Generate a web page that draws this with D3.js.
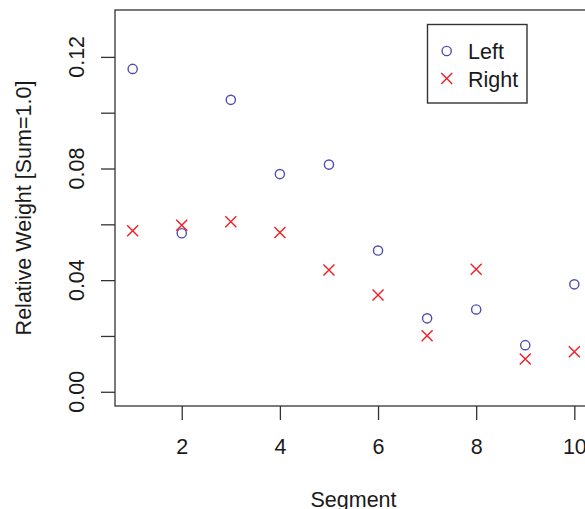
<!DOCTYPE html>
<html>
<head>
<meta charset="utf-8">
<script src="https://cdn.jsdelivr.net/npm/d3@7"></script>
<style>
    body { margin: 0; background: #fff; }
    svg text { font-family: "Liberation Sans", Arial, sans-serif; fill: #1a1a1a; }
</style>
</head>
<body>
<div id="chart"></div>
<script>
(function () {

    // Data
    var segments = [1, 2, 3, 4, 5, 6, 7, 8, 9, 10];
    var leftWeights = [0.1157, 0.0568, 0.1046, 0.0780, 0.0814, 0.0506, 0.0263, 0.0295, 0.0167, 0.0385];
    var rightWeights = [0.0577, 0.0597, 0.0609, 0.0571, 0.0436, 0.0347, 0.0201, 0.0439, 0.0117, 0.0143];
    var xTicks = [2, 4, 6, 8, 10];
    var yTicks = [0, 0.02, 0.04, 0.06, 0.08, 0.10, 0.12];
    var yLabelled = [0, 0.04, 0.08, 0.12];
    var legendNames = ['Left', 'Right'];

    var width = 585, height = 509;
    var box = { left: 115, top: 10, right: 592, bottom: 406 };
    var fontSize = '21.5px';
    var axisColor = '#333';

    var svg = d3.select('#chart')
        .append('svg')
        .attr('width', width)
        .attr('height', height);

    // Scales (R style 4% padding)
    var x = d3.scaleLinear()
        .domain([0.64, 10.36])
        .range([box.left, box.right]);
    var y = d3.scaleLinear()
        .domain([-0.0051, 0.1368])
        .range([box.bottom, box.top]);

    // Plot box
    svg.append('rect')
        .attr('x', box.left)
        .attr('y', box.top)
        .attr('width', box.right - box.left)
        .attr('height', box.bottom - box.top)
        .attr('fill', 'none')
        .attr('stroke', axisColor)
        .attr('stroke-width', 1.3);

    // X axis
    var xAxis = svg.append('g')
        .attr('transform', 'translate(0,' + box.bottom + ')')
        .call(d3.axisBottom(x)
            .tickValues(xTicks)
            .tickSize(14)
            .tickPadding(18.5)
            .tickFormat(d3.format('d')));
    xAxis.select('.domain').remove();
    xAxis.selectAll('line').attr('stroke', axisColor).attr('stroke-width', 1.3);
    xAxis.selectAll('text')
        .attr('font-size', fontSize)
        .attr('font-family', '"Liberation Sans", Arial, sans-serif')
        .attr('fill', '#1a1a1a');

    // Y axis
    var yAxis = svg.append('g')
        .attr('transform', 'translate(' + box.left + ',0)')
        .call(d3.axisLeft(y)
            .tickValues(yTicks)
            .tickSize(14)
            .tickFormat(''));
    yAxis.select('.domain').remove();
    yAxis.selectAll('line').attr('stroke', axisColor).attr('stroke-width', 1.3);

    // rotated y tick labels, only every other one
    svg.append('g')
        .selectAll('text')
        .data(yLabelled)
        .enter()
        .append('text')
        .attr('transform', function (d) {
            return 'translate(83.5,' + y(d) + ') rotate(-90)';
        })
        .attr('text-anchor', 'middle')
        .attr('font-size', fontSize)
        .text(d3.format('.2f'));

    // Axis titles
    svg.append('text')
        .attr('x', (box.left + box.right) / 2)
        .attr('y', 507)
        .attr('text-anchor', 'middle')
        .attr('font-size', fontSize)
        .text('Segment');

    svg.append('text')
        .attr('transform', 'translate(31,' + (box.top + box.bottom) / 2 + ') rotate(-90)')
        .attr('text-anchor', 'middle')
        .attr('font-size', fontSize)
        .text('Relative Weight [Sum=1.0]');

    var blue = '#4f4fae', red = '#f01e24';
    var cross = 5.5;

    // Left: circles
    svg.append('g')
        .selectAll('circle')
        .data(segments)
        .enter()
        .append('circle')
        .attr('cx', function (d) { return x(d); })
        .attr('cy', function (d, i) { return y(leftWeights[i]); })
        .attr('r', 4.6)
        .attr('fill', 'none')
        .attr('stroke', blue)
        .attr('stroke-width', 1.4);

    // Right: crosses
    svg.append('g')
        .selectAll('path')
        .data(segments)
        .enter()
        .append('path')
        .attr('d', function (d, i) {
            var cx = x(d), cy = y(rightWeights[i]);
            return 'M' + (cx - cross) + ',' + (cy - cross) + 'L' + (cx + cross) + ',' + (cy + cross) +
                'M' + (cx - cross) + ',' + (cy + cross) + 'L' + (cx + cross) + ',' + (cy - cross);
        })
        .attr('stroke', red)
        .attr('stroke-width', 1.4);

    // Legend
    var legend = svg.append('g');
    legend.append('rect')
        .attr('x', 427.5)
        .attr('y', 24.5)
        .attr('width', 99.5)
        .attr('height', 78.5)
        .attr('fill', '#fff')
        .attr('stroke', axisColor)
        .attr('stroke-width', 1.4);

    var rowY = [51, 78.5];
    legend.append('circle')
        .attr('cx', 446.7)
        .attr('cy', rowY[0])
        .attr('r', 4.6)
        .attr('fill', 'none')
        .attr('stroke', blue)
        .attr('stroke-width', 1.4);
    legend.append('path')
        .attr('d', 'M' + (446.7 - cross) + ',' + (rowY[1] - cross) + 'L' + (446.7 + cross) + ',' + (rowY[1] + cross) +
            'M' + (446.7 - cross) + ',' + (rowY[1] + cross) + 'L' + (446.7 + cross) + ',' + (rowY[1] - cross))
        .attr('stroke', red)
        .attr('stroke-width', 1.4);

    legend.selectAll('text.lab')
        .data(legendNames)
        .enter()
        .append('text')
        .attr('class', 'lab')
        .attr('x', 468)
        .attr('y', function (d, i) { return rowY[i] + 8; })
        .attr('font-size', fontSize)
        .text(function (d) { return d; });

})();
</script>
</body>
</html>
